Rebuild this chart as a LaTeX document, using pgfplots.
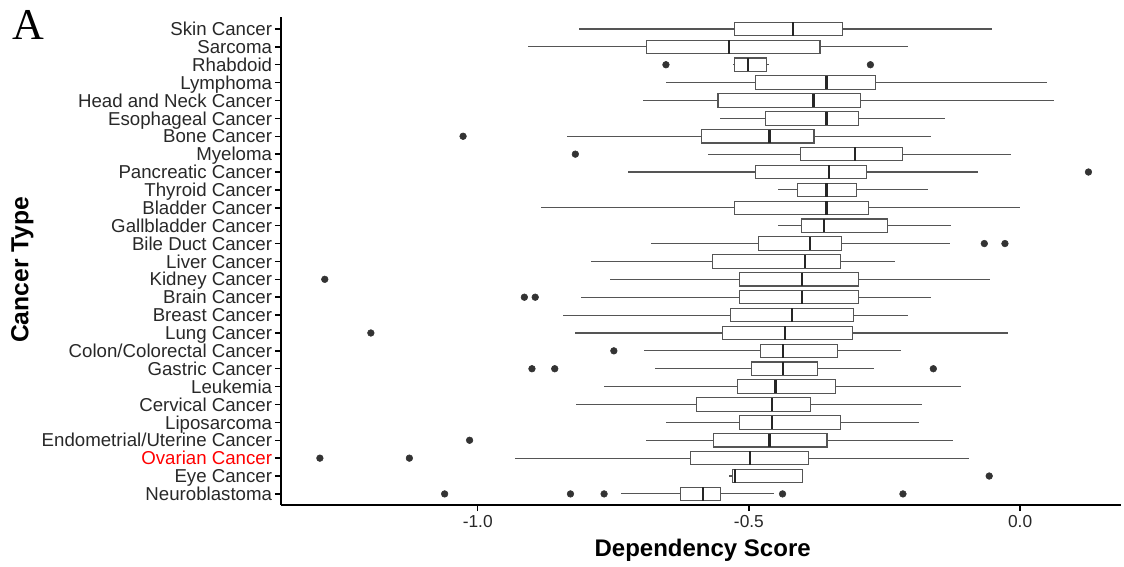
\documentclass[border=0pt]{standalone}
\usepackage{fontspec}
\setmainfont{Liberation Sans}
\newfontfamily\serifA{Liberation Serif}
\usepackage{pgfplots}
\pgfplotsset{compat=1.18}
\usepgfplotslibrary{statistics}
\definecolor{boxgray}{RGB}{85,85,85}
\definecolor{dotgray}{RGB}{51,51,51}
\definecolor{lblgray}{RGB}{40,40,40}

% one horizontal box: row, lower whisker, lower quartile, median, upper quartile, upper whisker
\newcommand{\bx}[6]{%
  \addplot[boxgray, line width=0.8pt, fill=white,
    boxplot prepared={draw position=#1, lower whisker=#2, lower quartile=#3,
      median=#4, upper quartile=#5, upper whisker=#6}] coordinates {};}

\begin{document}
\begin{tikzpicture}
\path[use as bounding box] (-210.75pt,-46.5pt) rectangle (632.25pt,378.75pt);
\begin{axis}[
    at={(0,0)}, anchor=south west,
    scale only axis, width=630pt, height=366pt,
    xmin=-1.3627, xmax=0.186, ymin=0.38, ymax=27.67,
    axis lines*=left,
    axis line style={-, line width=1.1pt, black},
    tick align=outside, major tick length=4.5pt,
    tick style={line width=1.1pt, black},
    xtick pos=left, ytick pos=left,
    xtick={-1,-0.5,0}, xticklabels={-1.0,-0.5,0.0},
    ytick={1,...,27},
    yticklabels={Neuroblastoma, Eye Cancer, {\color{red}Ovarian Cancer},
      Endometrial/Uterine Cancer, Liposarcoma, Cervical Cancer, Leukemia,
      Gastric Cancer, Colon/Colorectal Cancer, Lung Cancer, Breast Cancer,
      Brain Cancer, Kidney Cancer, Liver Cancer, Bile Duct Cancer,
      Gallbladder Cancer, Bladder Cancer, Thyroid Cancer, Pancreatic Cancer,
      Myeloma, Bone Cancer, Esophageal Cancer, Head and Neck Cancer,
      Lymphoma, Rhabdoid, Sarcoma, Skin Cancer},
    yticklabel style={font=\fontsize{14}{15}\selectfont, text=lblgray, inner sep=2pt,
      text height=10pt, text depth=0pt},
    xticklabel style={font=\fontsize{13}{15}\selectfont, text=lblgray},
    xlabel={Dependency Score}, ylabel={Cancer Type},
    every axis x label/.style={at={(axis description cs:0.502,-0.092)}, anchor=center,
      font=\bfseries\fontsize{18}{20}\selectfont},
    every axis y label/.style={at={(axis description cs:-0.308,0.482)}, rotate=90, anchor=center,
      font=\bfseries\fontsize{18.5}{20}\selectfont},
    boxplot/draw direction=x,
    boxplot/box extend=0.75,
    boxplot/whisker extend=0,
    boxplot/every median/.style={line width=1.6pt, black!85},
    clip=false,
]
\bx{27}{-0.813}{-0.526}{-0.419}{-0.327}{-0.052}
\bx{26}{-0.907}{-0.688}{-0.536}{-0.369}{-0.206}
\bx{25}{-0.529}{-0.526}{-0.502}{-0.467}{-0.463}
\bx{24}{-0.653}{-0.488}{-0.357}{-0.266}{0.049}
\bx{23}{-0.696}{-0.557}{-0.381}{-0.295}{0.063}
\bx{22}{-0.553}{-0.470}{-0.357}{-0.298}{-0.139}
\bx{21}{-0.835}{-0.588}{-0.462}{-0.380}{-0.165}
\bx{20}{-0.575}{-0.405}{-0.305}{-0.217}{-0.016}
\bx{19}{-0.723}{-0.488}{-0.352}{-0.284}{-0.078}
\bx{18}{-0.446}{-0.410}{-0.357}{-0.302}{-0.170}
\bx{17}{-0.883}{-0.526}{-0.357}{-0.279}{-0.001}
\bx{16}{-0.446}{-0.403}{-0.362}{-0.244}{-0.127}
\bx{15}{-0.680}{-0.483}{-0.388}{-0.329}{-0.130}
\bx{14}{-0.792}{-0.568}{-0.397}{-0.331}{-0.230}
\bx{13}{-0.756}{-0.517}{-0.402}{-0.298}{-0.056}
\bx{12}{-0.809}{-0.517}{-0.402}{-0.298}{-0.165}
\bx{11}{-0.843}{-0.534}{-0.421}{-0.307}{-0.206}
\bx{10}{-0.821}{-0.548}{-0.433}{-0.309}{-0.023}
\bx{9}{-0.693}{-0.479}{-0.437}{-0.336}{-0.219}
\bx{8}{-0.673}{-0.496}{-0.437}{-0.373}{-0.270}
\bx{7}{-0.767}{-0.521}{-0.451}{-0.340}{-0.109}
\bx{6}{-0.819}{-0.597}{-0.457}{-0.387}{-0.181}
\bx{5}{-0.653}{-0.517}{-0.457}{-0.331}{-0.186}
\bx{4}{-0.689}{-0.566}{-0.462}{-0.356}{-0.123}
\bx{3}{-0.932}{-0.608}{-0.498}{-0.391}{-0.094}
\bx{2}{-0.536}{-0.530}{-0.525}{-0.401}{-0.401}
\bx{1}{-0.736}{-0.626}{-0.585}{-0.552}{-0.454}
% outliers
\addplot[only marks, mark=*, mark size=2.5pt, dotgray] coordinates {
  (-0.653,25) (-0.276,25)
  (-1.027,21) (-0.820,20) (0.126,19)
  (-0.066,15) (-0.028,15)
  (-1.282,13) (-0.914,12) (-0.894,12)
  (-1.197,10) (-0.749,9)
  (-0.900,8) (-0.858,8) (-0.160,8)
  (-1.015,4) (-1.291,3) (-1.126,3) (-0.057,2)
  (-1.061,1) (-0.829,1) (-0.767,1) (-0.438,1) (-0.216,1)
};
\end{axis}
\node[anchor=base west, inner sep=0pt, font=\serifA\fontsize{33}{35}\selectfont] at (-201.75pt,348.75pt) {A};
\end{tikzpicture}
\end{document}
